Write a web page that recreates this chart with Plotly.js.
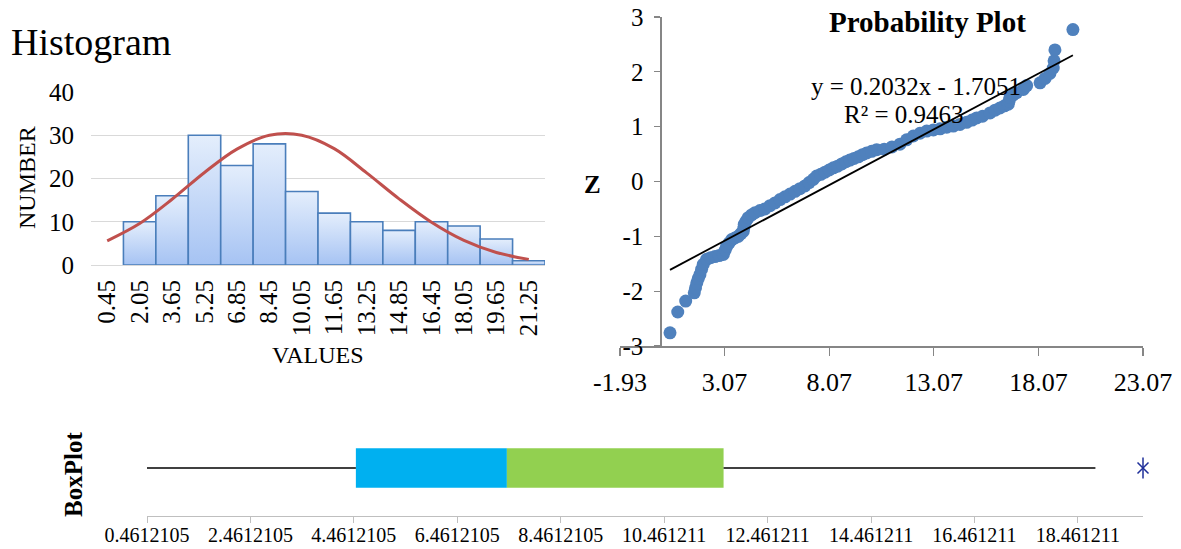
<!DOCTYPE html>
<html>
<head>
<meta charset="utf-8">
<script src="https://cdn.plot.ly/plotly-3.0.1.min.js"></script>
<style>
  html, body { margin: 0; padding: 0; background: #ffffff; }
  #chart { width: 1181px; height: 549px; }
</style>
</head>
<body>
<div id="chart"></div>
<script>
// ---- Histogram data -------------------------------------------------------
const binLabels = ['0.45', '2.05', '3.65', '5.25', '6.85', '8.45', '10.05',
                   '11.65', '13.25', '14.85', '16.45', '18.05', '19.65', '21.25'];
const binCounts = [0, 10, 16, 30, 23, 28, 17, 12, 10, 8, 10, 9, 6, 1];
// fitted normal curve, sampled at each bin label
const normalCurve = [5.6, 9.6, 15.2, 21.4, 26.8, 30.0, 30.0, 26.9, 21.3, 15.3, 9.9, 5.7, 2.9, 1.3];

// ---- Probability plot data ------------------------------------------------
const probValues = [0.46, 0.83, 1.21, 1.62, 1.68, 1.74, 1.81, 1.89, 1.97, 2.05,
  2.21, 2.40, 2.61, 2.81, 3.01, 3.10, 3.17, 3.29, 3.41, 3.56, 3.72, 3.85, 3.96,
  3.99, 4.01, 4.10, 4.20, 4.36, 4.52, 4.76, 5.00, 5.24, 5.48, 5.72, 5.96, 6.20,
  6.44, 6.67, 6.91, 7.11, 7.31, 7.47, 7.67, 7.87, 8.07, 8.27, 8.47, 8.67, 8.87,
  9.06, 9.26, 9.46, 9.66, 9.86, 10.10, 10.34, 10.70, 11.07, 11.45, 11.77, 12.09,
  12.41, 12.73, 13.05, 13.37, 13.69, 14.00, 14.32, 14.64, 14.90, 15.12, 15.40,
  15.76, 16.00, 16.23, 16.45, 16.63, 16.67, 16.71, 16.87, 17.03, 17.35, 17.51,
  18.15, 18.39, 18.62, 18.78, 18.82, 18.86, 19.72];
const probZ = [-2.76, -2.38, -2.18, -2.03, -1.94, -1.85, -1.77, -1.70, -1.60, -1.51,
  -1.42, -1.39, -1.37, -1.35, -1.33, -1.25, -1.18, -1.12, -1.06, -1.03, -1.00, -0.95, -0.91,
  -0.85, -0.78, -0.72, -0.66, -0.61, -0.57, -0.53, -0.50, -0.44, -0.39, -0.33, -0.28, -0.23,
  -0.18, -0.13, -0.08, -0.02, 0.04, 0.10, 0.13, 0.17, 0.21, 0.25, 0.28, 0.32, 0.36,
  0.39, 0.42, 0.45, 0.49, 0.52, 0.55, 0.58, 0.59, 0.63, 0.68, 0.76, 0.83,
  0.88, 0.92, 0.94, 0.96, 0.99, 1.01, 1.04, 1.08, 1.12, 1.16, 1.19,
  1.25, 1.30, 1.34, 1.38, 1.41, 1.47, 1.53, 1.58, 1.62, 1.68, 1.75,
  1.80, 1.88, 1.97, 2.07, 2.20, 2.40, 2.77];
const trendSlope = 0.2032;
const trendIntercept = -1.7051;
const trendR2 = 0.9463;
const probXTicks = [-1.93, 3.07, 8.07, 13.07, 18.07, 23.07];
const probXLabels = ['-1.93', '3.07', '8.07', '13.07', '18.07', '23.07'];
const probYTicks = [-3, -2, -1, 0, 1, 2, 3];
const probYLabels = ['-3', '-2', '-1', '0', '1', '2', '3'];

// ---- Box plot data --------------------------------------------------------
const boxMin = 0.4612105;
const boxQ1 = 4.50;
const boxMedian = 7.42;
const boxQ3 = 11.61;
const boxMax = 18.80;
const boxOutliers = [19.72];
const boxTicks = [0.4612105, 2.4612105, 4.4612105, 6.4612105, 8.4612105,
                  10.461211, 12.461211, 14.461211, 16.461211, 18.461211];
const boxTickLabels = ['0.4612105', '2.4612105', '4.4612105', '6.4612105', '8.4612105',
                       '10.461211', '12.461211', '14.461211', '16.461211', '18.461211'];

// ---- helpers: page pixels -> paper fractions ------------------------------
const W = 1181, H = 549;
const fx = p => p / W;
const fy = p => 1 - p / H;
const SERIF = 'Liberation Serif, Times New Roman, serif';

const traces = [];

// histogram bars: one filled rectangle per bin with a vertical gradient
binCounts.forEach((c, i) => {
  if (c <= 0) return;
  traces.push({
    type: 'scatter', mode: 'lines', xaxis: 'x', yaxis: 'y',
    x: [i - 0.5, i - 0.5, i + 0.5, i + 0.5, i - 0.5],
    y: [0, c, c, 0, 0],
    fill: 'toself',
    fillgradient: { type: 'vertical', colorscale: [[0, '#a6c3f3'], [1, '#e4eefc']] },
    line: { color: '#4a7ebb', width: 1.6 },
    hoverinfo: 'skip', showlegend: false
  });
});

// normal curve
traces.push({
  type: 'scatter', mode: 'lines', xaxis: 'x', yaxis: 'y',
  x: binLabels.map((_, i) => i), y: normalCurve,
  line: { color: '#c0504d', width: 3, shape: 'spline', smoothing: 1.0 },
  showlegend: false
});

// probability plot points
traces.push({
  type: 'scatter', mode: 'markers', xaxis: 'x2', yaxis: 'y2',
  x: probValues, y: probZ, cliponaxis: false,
  marker: { color: '#4f81bd', size: 13 },
  showlegend: false
});

// linear trendline
const tx = [Math.min(...probValues), Math.max(...probValues)];
traces.push({
  type: 'scatter', mode: 'lines', xaxis: 'x2', yaxis: 'y2',
  x: tx, y: tx.map(v => trendSlope * v + trendIntercept),
  line: { color: '#000000', width: 1.8 },
  showlegend: false
});

// box plot: two coloured halves of the box
traces.push({
  type: 'bar', orientation: 'h', xaxis: 'x3', yaxis: 'y3',
  y: [0.5], x: [boxMedian - boxQ1], base: [boxQ1], width: 0.41,
  marker: { color: '#00b0f0', line: { width: 0 } }, showlegend: false
});
traces.push({
  type: 'bar', orientation: 'h', xaxis: 'x3', yaxis: 'y3',
  y: [0.5], x: [boxQ3 - boxMedian], base: [boxMedian], width: 0.41,
  marker: { color: '#92d050', line: { width: 0 } }, showlegend: false
});
// whiskers
traces.push({
  type: 'scatter', mode: 'lines', xaxis: 'x3', yaxis: 'y3',
  x: [boxMin, boxQ1, null, boxQ3, boxMax], y: [0.5, 0.5, null, 0.5, 0.5],
  line: { color: '#000000', width: 1.4 }, showlegend: false
});
// outlier marker (x with a vertical stroke)
traces.push({
  type: 'scatter', mode: 'markers', xaxis: 'x3', yaxis: 'y3',
  x: boxOutliers, y: boxOutliers.map(() => 0.5), cliponaxis: false,
  marker: { symbol: 'x-thin-open', size: 11, color: '#1f2f9a', line: { color: '#1f2f9a', width: 1.5 } },
  showlegend: false
});
traces.push({
  type: 'scatter', mode: 'markers', xaxis: 'x3', yaxis: 'y3',
  x: boxOutliers, y: boxOutliers.map(() => 0.5), cliponaxis: false,
  marker: { symbol: 'line-ns-open', size: 15, color: '#1f2f9a', line: { color: '#1f2f9a', width: 1.5 } },
  showlegend: false
});

const fmt = v => (v < 0 ? '- ' + Math.abs(v) : '+ ' + v);

const layout = {
  width: W, height: H,
  margin: { l: 0, r: 0, t: 0, b: 0 },
  paper_bgcolor: '#ffffff', plot_bgcolor: 'rgba(0,0,0,0)',
  barmode: 'overlay',
  showlegend: false,
  font: { family: SERIF, color: '#000000' },

  // histogram
  xaxis: {
    domain: [fx(91), fx(545)], anchor: 'y',
    range: [-0.5, 13.5], tickvals: binLabels.map((_, i) => i), ticktext: binLabels,
    tickangle: -90, ticks: '', showgrid: false, zeroline: false, showline: false,
    tickfont: { family: SERIF, size: 25, color: '#000' }, ticklabelstandoff: 9
  },
  yaxis: {
    domain: [fy(265), fy(92)], anchor: 'x',
    range: [0, 40], tickvals: [0, 10, 20, 30, 40],
    showgrid: true, gridcolor: '#d9d9d9', gridwidth: 1,
    zeroline: true, zerolinecolor: '#d9d9d9', zerolinewidth: 1,
    showline: false, ticks: '',
    tickfont: { family: SERIF, size: 25, color: '#000' }, ticklabelstandoff: 16
  },

  // probability plot
  xaxis2: {
    domain: [fx(620), fx(1143)], anchor: 'y2',
    range: [-1.93, 23.07], tickvals: probXTicks, ticktext: probXLabels,
    ticks: 'outside', ticklen: 8, tickcolor: '#868686', tickwidth: 1.2,
    showline: true, linecolor: '#868686', linewidth: 1.5,
    showgrid: false, zeroline: false,
    tickfont: { family: SERIF, size: 26, color: '#000' }, ticklabelstandoff: 4
  },
  yaxis2: {
    domain: [fy(346), fy(17)], anchor: 'free',
    position: fx(620) + (0 - (-1.93)) / 25 * (fx(1143) - fx(620)),
    range: [-3, 3], tickvals: probYTicks, ticktext: probYLabels,
    ticks: 'outside', ticklen: 6, tickcolor: '#868686', tickwidth: 1.2,
    showline: true, linecolor: '#868686', linewidth: 1.5,
    showgrid: false, zeroline: false,
    tickfont: { family: SERIF, size: 25, color: '#000' }, ticklabelstandoff: 6
  },

  // box plot
  xaxis3: {
    domain: [fx(147), fx(1143)], anchor: 'y3',
    range: [boxMin, boxOutliers[0]], tickvals: boxTicks, ticktext: boxTickLabels,
    ticks: 'outside', ticklen: 6, tickcolor: '#bfbfbf', tickwidth: 1,
    showline: true, linecolor: '#bfbfbf', linewidth: 1.2,
    showgrid: false, zeroline: false,
    tickfont: { family: SERIF, size: 20, color: '#000' }, ticklabelstandoff: -5
  },
  yaxis3: {
    domain: [fy(516), fy(420)], anchor: 'x3', range: [0, 1], visible: false
  },

  annotations: [
    { text: 'Histogram', xref: 'paper', yref: 'paper', x: fx(9), y: fy(42),
      xanchor: 'left', yanchor: 'middle', showarrow: false,
      font: { family: SERIF, size: 38, color: '#000' } },
    { text: 'NUMBER', xref: 'paper', yref: 'paper', x: fx(27), y: fy(178),
      xanchor: 'center', yanchor: 'middle', textangle: -90, showarrow: false,
      font: { family: SERIF, size: 24, color: '#000' } },
    { text: 'VALUES', xref: 'paper', yref: 'paper', x: fx(318), y: fy(355),
      xanchor: 'center', yanchor: 'middle', showarrow: false,
      font: { family: SERIF, size: 24, color: '#000' } },
    { text: '<b>Probability Plot</b>', xref: 'paper', yref: 'paper', x: fx(927), y: fy(22),
      xanchor: 'center', yanchor: 'middle', showarrow: false,
      font: { family: SERIF, size: 29, color: '#000' } },
    { text: '<b>Z</b>', xref: 'paper', yref: 'paper', x: fx(592), y: fy(184),
      xanchor: 'center', yanchor: 'middle', showarrow: false,
      font: { family: SERIF, size: 25, color: '#000' } },
    { text: 'y = ' + trendSlope + 'x ' + fmt(trendIntercept), xref: 'paper', yref: 'paper',
      x: fx(916), y: fy(86), xanchor: 'center', yanchor: 'middle', showarrow: false,
      font: { family: SERIF, size: 25, color: '#000' } },
    { text: 'R² = ' + trendR2, xref: 'paper', yref: 'paper',
      x: fx(904), y: fy(114), xanchor: 'center', yanchor: 'middle', showarrow: false,
      font: { family: SERIF, size: 25, color: '#000' } },
    { text: '<b>BoxPlot</b>', xref: 'paper', yref: 'paper', x: fx(73), y: fy(475),
      xanchor: 'center', yanchor: 'middle', textangle: -90, showarrow: false,
      font: { family: SERIF, size: 25, color: '#000' } }
  ]
};

Plotly.newPlot('chart', traces, layout, { staticPlot: true, displayModeBar: false });
</script>
</body>
</html>
